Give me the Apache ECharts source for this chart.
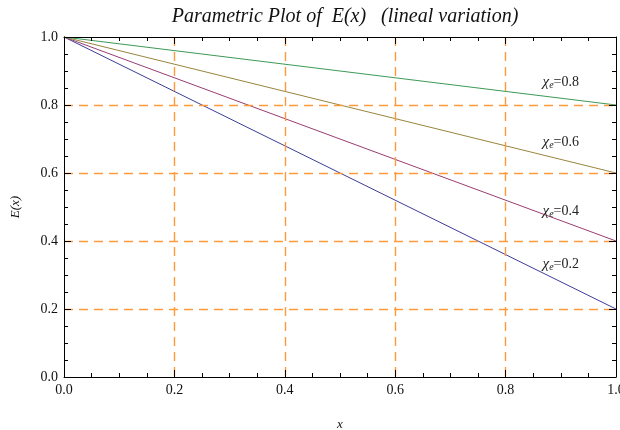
<!DOCTYPE html>
<html>
<head>
<meta charset="utf-8">
<style>html,body{margin:0;padding:0;background:#fff;}#c{width:620px;height:430px;}</style>
<script src="https://cdn.jsdelivr.net/npm/echarts@6/dist/echarts.min.js"></script>
</head>
<body>
<div id="c"></div>
<script>
var xValues = [0, 1];
var chiLabels = ['0.2', '0.4', '0.6', '0.8'];
var eChi02 = [1.0, 0.2];
var eChi04 = [1.0, 0.4];
var eChi06 = [1.0, 0.6];
var eChi08 = [1.0, 0.8];
var labelX = [0.9, 0.9, 0.9, 0.9];
var labelY = [0.332, 0.488, 0.691, 0.868];
var xTicks = [0, 0.2, 0.4, 0.6, 0.8, 1.0];
var yTicks = [0, 0.2, 0.4, 0.6, 0.8, 1.0];

var serif = 'Liberation Serif';
var colors = ['#3D3D99', '#993D71', '#99853D', '#3D9956'];
var seriesVals = [eChi02, eChi04, eChi06, eChi08];

var gridDash = { show: true, showMinLine: false, showMaxLine: false,
  lineStyle: { color: '#FF9A3A', type: [9, 6], width: 1.4 } };

function frameAxis(extra) {
  var base = {
    type: 'value', min: 0, max: 1, interval: 0.2,
    axisLine: { show: true, onZero: false, lineStyle: { color: '#000', width: 1 } },
    axisTick: { show: true, inside: true, length: 7, lineStyle: { color: '#000' } },
    minorTick: { show: true, splitNumber: 4, length: 4, lineStyle: { color: '#000' } },
    splitLine: { show: false },
    axisLabel: { show: false },
    z: 5
  };
  for (var k in extra) base[k] = extra[k];
  return base;
}

var series = seriesVals.map(function (vals, i) {
  return {
    type: 'line',
    data: xValues.map(function (x, j) { return [x, vals[j]]; }),
    showSymbol: false,
    symbol: 'none',
    lineStyle: { color: colors[i], width: 1 },
    itemStyle: { color: colors[i] },
    silent: true,
    z: 3,
    markPoint: {
      symbol: 'circle', symbolSize: 0, silent: true,
      data: [{ coord: [labelX[i], labelY[i]] }],
      label: {
        show: true, position: 'inside',
        formatter: '{c|\u03C7}{s|e}{n|=' + chiLabels[i] + '}',
        rich: {
          c: { fontFamily: serif, fontStyle: 'italic', fontSize: 15, color: '#222' },
          s: { fontFamily: serif, fontStyle: 'italic', fontSize: 10, color: '#222', verticalAlign: 'bottom', padding: [7, 0, 0, 0] },
          n: { fontFamily: serif, fontSize: 14, color: '#222' }
        }
      }
    }
  };
});

var chart = echarts.init(document.getElementById('c'), null, { renderer: 'canvas' });
chart.setOption({
  animation: false,
  backgroundColor: '#fff',
  title: {
    text: 'Parametric Plot of  E(x)   (lineal variation)',
    left: 340, textAlign: 'center', top: 2,
    textStyle: { fontFamily: serif, fontStyle: 'italic', fontWeight: 'normal', fontSize: 20, color: '#111' }
  },
  grid: { left: 64, right: 4, top: 37, bottom: 53, containLabel: false, outerBoundsMode: 'none' },
  xAxis: [
    frameAxis({
      position: 'bottom',
      name: 'x', nameLocation: 'middle', nameGap: 41,
      nameTextStyle: { fontFamily: serif, fontStyle: 'italic', fontSize: 13, color: '#111' },
      splitLine: gridDash,
      axisLabel: { show: true, fontFamily: serif, fontSize: 14, color: '#111', margin: 6,
        formatter: function (v) { return v.toFixed(1); } }
    }),
    frameAxis({ position: 'top' })
  ],
  yAxis: [
    frameAxis({
      position: 'left',
      name: 'E(x)', nameLocation: 'middle', nameGap: 42, nameRotate: 90,
      nameTextStyle: { fontFamily: serif, fontStyle: 'italic', fontSize: 13, color: '#111' },
      splitLine: gridDash,
      axisLabel: { show: true, fontFamily: serif, fontSize: 14, color: '#111', margin: 6,
        formatter: function (v) { return v.toFixed(1); } }
    }),
    frameAxis({ position: 'right' })
  ],
  series: series
});
</script>
</body>
</html>
